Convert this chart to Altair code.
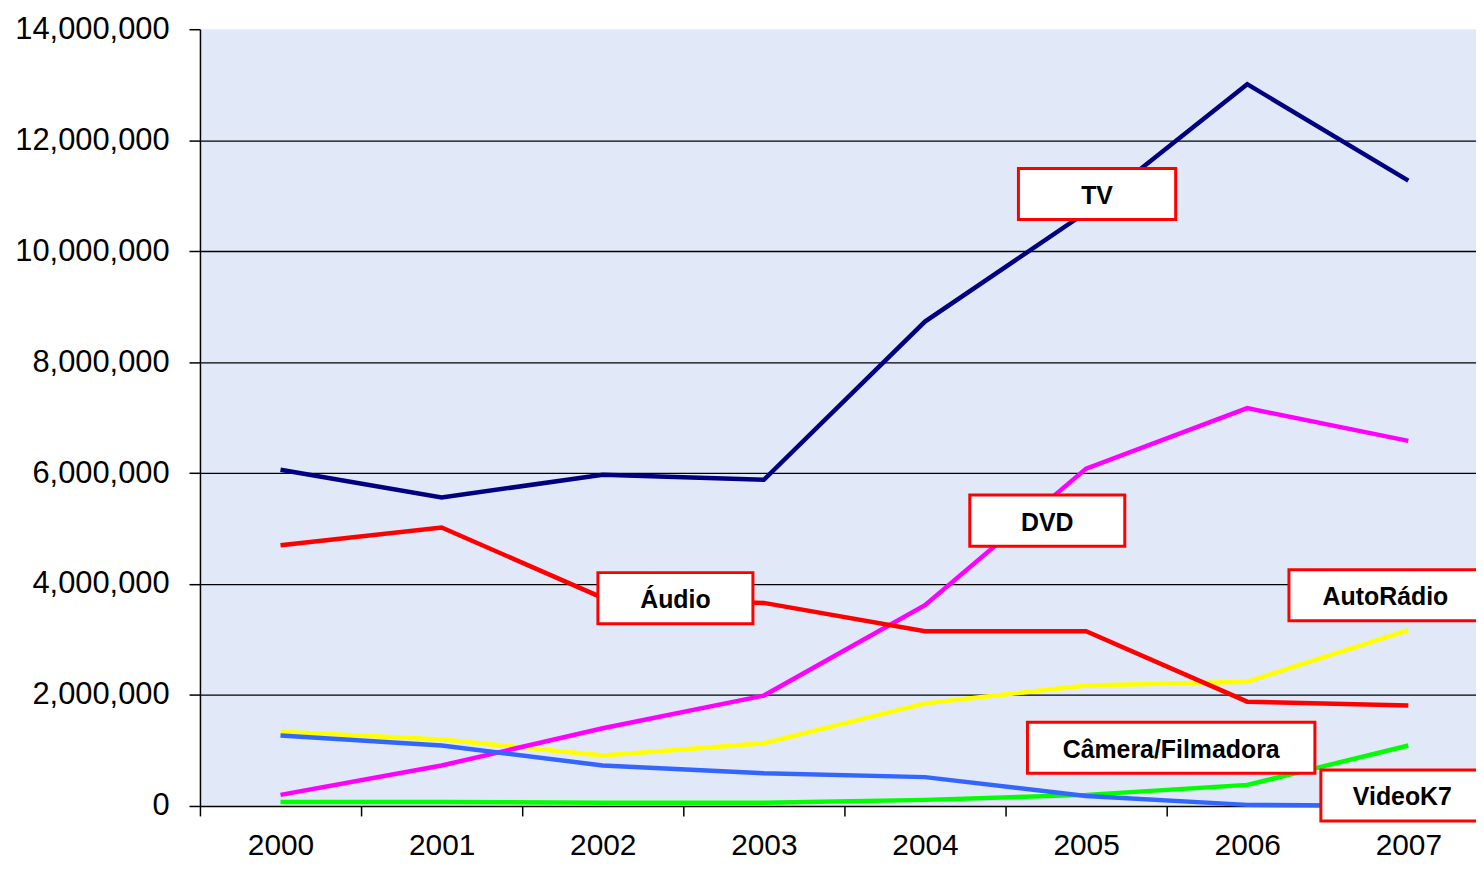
import altair as alt
import pandas as pd

years = [2000, 2001, 2002, 2003, 2004, 2005, 2006, 2007]
tv = [6060000, 5560000, 5970000, 5880000, 8730000, 10700000, 13010000, 11270000]
audio = [4700000, 5020000, 3750000, 3660000, 3150000, 3150000, 1880000, 1810000]
dvd = [200000, 730000, 1400000, 1990000, 3620000, 6080000, 7170000, 6580000]
autoradio = [1340000, 1200000, 910000, 1130000, 1850000, 2170000, 2240000, 3170000]
videok7 = [1270000, 1090000, 730000, 590000, 520000, 180000, 20000, 0]
camera = [70000, 70000, 60000, 60000, 110000, 200000, 380000, 1090000]

series_names = ["AutoRádio", "DVD", "Áudio", "TV", "Câmera/Filmadora", "VideoK7"]
series_values = [autoradio, dvd, audio, tv, camera, videok7]
series_colors = ["#FFFF00", "#FF00FF", "#FF0000", "#000080", "#00FF00", "#3366FF"]

# annotation labels: text, centre year, centre value
label_text = ["TV", "DVD", "Áudio", "AutoRádio", "Câmera/Filmadora", "VideoK7"]
label_year = [2005.068, 2004.759, 2002.451, 2006.858, 2005.528, 2006.963]
label_value = [11030000, 5143000, 3746000, 3799000, 1048000, 188000]

rows = []
for name, vals in zip(series_names, series_values):
    for i, (yr, v) in enumerate(zip(years, vals)):
        rows.append({"serie": name, "year": yr, "value": v, "ord": i})
df = pd.DataFrame(rows)

# box half widths (years) and half height (units) -- styling only
half_w = {"TV": 0.488, "DVD": 0.481, "Áudio": 0.481, "AutoRádio": 0.599,
          "Câmera/Filmadora": 0.892, "VideoK7": 0.506}
half_h = 460000
lab = pd.DataFrame({"label": label_text, "cx": label_year, "cy": label_value})
lab["x1"] = lab["cx"] - lab["label"].map(half_w)
lab["x2"] = lab["cx"] + lab["label"].map(half_w)
lab["y1"] = lab["cy"] - half_h
lab["y2"] = lab["cy"] + half_h

FONT = "Liberation Sans"
xvals = [1999.5 + 0.5 * k for k in range(16)]

xscale = alt.Scale(domain=[1999.5, 2007.42], nice=False, zero=False)
yscale = alt.Scale(domain=[0, 14000000], nice=False, zero=True)

xaxis = alt.Axis(
    values=xvals,
    labelExpr="datum.value % 1 == 0 ? format(datum.value, 'd') : ''",
    tickOpacity={"condition": {"test": "datum.value % 1 == 0", "value": 0}, "value": 1},
    grid=False, title=None, labelOverlap=False, labelFlush=False,
    tickSize=10, tickWidth=1.5, tickColor="black",
    domainColor="black", domainWidth=1.5,
    labelFont=FONT, labelFontSize=30, labelColor="black", labelPadding=15,
)
yaxis = alt.Axis(
    values=list(range(0, 14000001, 2000000)), format=",d", title=None,
    grid=True, gridColor="black", gridWidth=1.3,
    gridOpacity={"condition": {"test": "datum.value == 0 || datum.value == 14000000", "value": 0}, "value": 1},
    tickSize=11, tickWidth=1.5, tickColor="black",
    domainColor="black", domainWidth=1.5,
    labelFont=FONT, labelFontSize=31, labelColor="black", labelPadding=20,
)

lines = alt.Chart(df).mark_line(strokeWidth=4.5).encode(
    x=alt.X("year:Q", scale=xscale, axis=xaxis),
    y=alt.Y("value:Q", scale=yscale, axis=yaxis),
    color=alt.Color("serie:N", scale=alt.Scale(domain=series_names, range=series_colors), legend=None),
    order=alt.Order("ord:Q"),
)

boxes = alt.Chart(lab).mark_rect(fill="white", stroke="#FF0000", strokeWidth=3).encode(
    x="x1:Q", x2="x2:Q", y="y1:Q", y2="y2:Q"
)
texts = alt.Chart(lab).mark_text(font=FONT, fontSize=25, fontWeight="bold", color="black",
                                 baseline="middle", dy=2).encode(
    x="cx:Q", y="cy:Q", text="label:N"
)

chart = alt.layer(lines, boxes, texts).properties(
    width=1283, height=781,
    autosize=alt.AutoSizeParams(type="none"),
    padding={"left": 193, "top": 19, "right": 0, "bottom": 55},
    background="white",
).configure_view(fill="#E1E9F8", stroke=None)

chart.save("out.html", embed_options={"renderer": "svg", "actions": False})
